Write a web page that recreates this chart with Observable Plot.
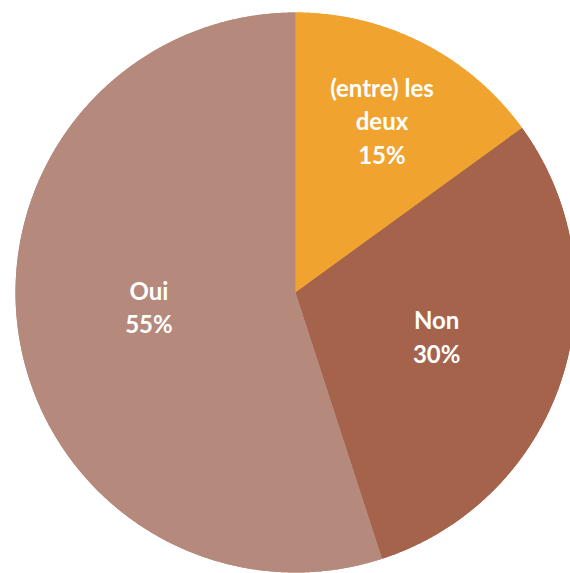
<!DOCTYPE html>
<html>
<head>
<meta charset="utf-8">
<script src="https://cdn.jsdelivr.net/npm/d3@7"></script>
<script src="https://cdn.jsdelivr.net/npm/@observablehq/plot@0.6"></script>
<style>
  html, body { margin: 0; padding: 0; background: #fff; }
  #chart { width: 570px; height: 573px; overflow: hidden; }
</style>
</head>
<body>
<div id="chart"></div>
<script>
// Data
const categories = ["(entre) les deux", "Non", "Oui"];
const shares = [15, 30, 55];
const labelLines = [["(entre) les", "deux"], ["Non"], ["Oui"]];
const colors = ["#F0A32F", "#A5634B", "#B5897C"];

const W = 570, H = 573;
const cx = 295, cy = 292, R = 280;

const rows = categories.map((c, i) => ({category: c, value: shares[i], lines: labelLines[i]}));
const arcs = d3.pie().sort(null).value(d => d.value)(rows);

// Slice outlines (unit circle, y up), angles clockwise from 12 o'clock
const outline = [];
arcs.forEach(a => {
  const c = a.data.category;
  outline.push({category: c, x: 0, y: 0});
  const n = Math.max(2, Math.ceil((a.endAngle - a.startAngle) / 0.005));
  for (let k = 0; k <= n; k++) {
    const t = a.startAngle + (a.endAngle - a.startAngle) * k / n;
    outline.push({category: c, x: Math.sin(t), y: Math.cos(t)});
  }
  outline.push({category: c, x: 0, y: 0});
});

const labels = arcs.map(a => {
  const m = (a.startAngle + a.endAngle) / 2;
  const big = a.data.value > 50;
  const r = a.data.value < 20 ? 0.68 : 0.53;
  return {
    x: r * Math.sin(m),
    y: r * Math.cos(m) + (big ? 0.025 : 0),
    text: [...a.data.lines, a.data.value + "%"].join("\n")
  };
});

const chart = Plot.plot({
  width: W,
  height: H,
  margin: 0,
  x: {domain: [-cx / R, (W - cx) / R], axis: null},
  y: {domain: [-(H - cy) / R, cy / R], axis: null},
  color: {domain: categories, range: colors},
  style: {background: "transparent", overflow: "hidden"},
  marks: [
    Plot.line(outline, {x: "x", y: "y", z: "category", fill: "category", stroke: "none", curve: "linear",
      style: "filter: drop-shadow(2px 3px 3px rgba(0,0,0,0.28))"}),
    Plot.line(outline, {x: "x", y: "y", z: "category", fill: "category", stroke: "none", curve: "linear"}),
    Plot.text(labels, {x: "x", y: "y", text: "text", fill: "white", fontSize: 24, fontWeight: 700,
      lineHeight: 1.38, lineAnchor: "middle", textAnchor: "middle", fontFamily: "Lato", dy: -3})
  ]
});
document.getElementById("chart").appendChild(chart);
</script>
</body>
</html>
